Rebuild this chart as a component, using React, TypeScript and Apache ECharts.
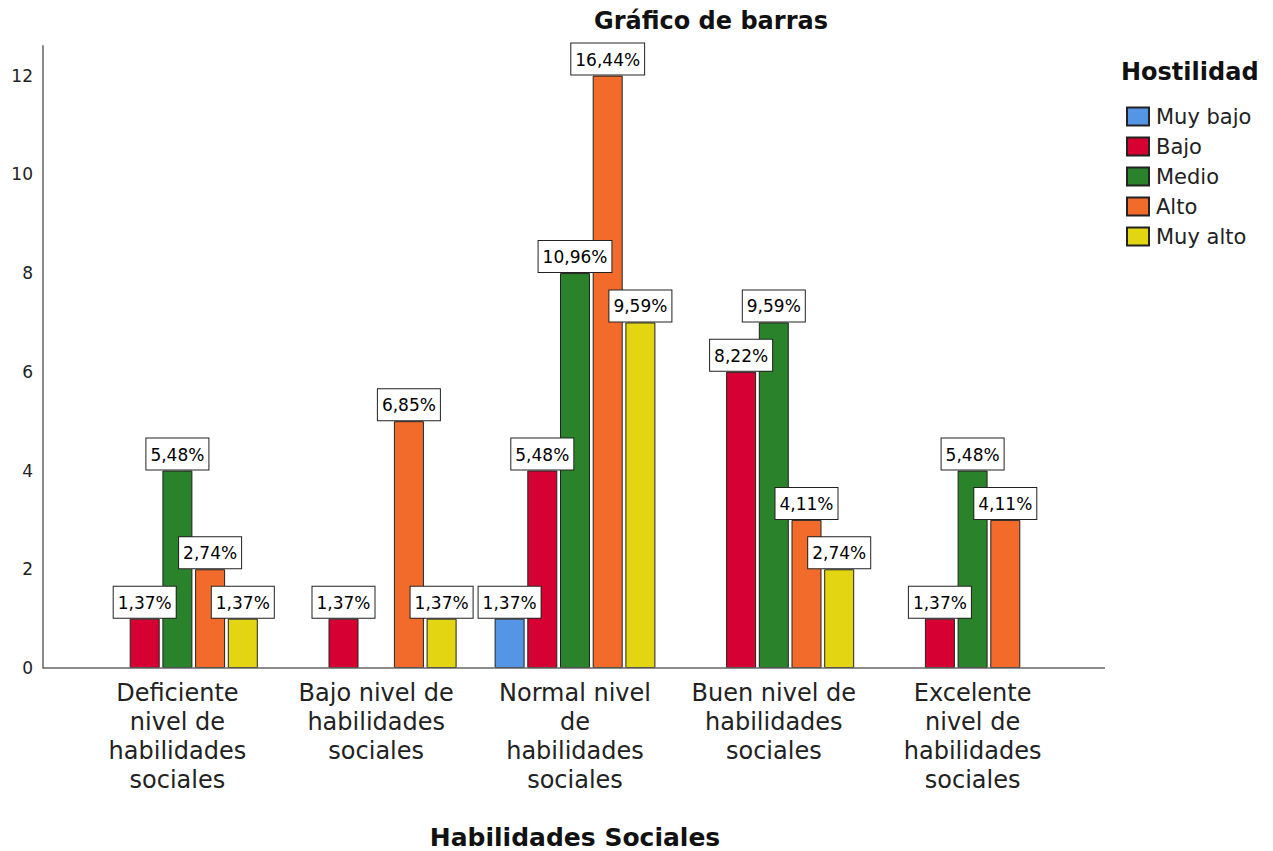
import React, { useEffect, useRef } from 'react';
import * as echarts from 'echarts';

const categories = [
  'Deficiente\nnivel de\nhabilidades\nsociales',
  'Bajo nivel de\nhabilidades\nsociales',
  'Normal nivel\nde\nhabilidades\nsociales',
  'Buen nivel de\nhabilidades\nsociales',
  'Excelente\nnivel de\nhabilidades\nsociales',
];
const hostilidad = ['Muy bajo', 'Bajo', 'Medio', 'Alto', 'Muy alto'];
const muyBajo = [0, 0, 1, 0, 0];
const bajo = [1, 1, 4, 6, 1];
const medio = [4, 0, 8, 7, 4];
const alto = [2, 5, 12, 3, 3];
const muyAlto = [1, 1, 7, 2, 0];
const seriesValues = [muyBajo, bajo, medio, alto, muyAlto];
const colors = ['#5595E5', '#D60032', '#2A822A', '#F36B2B', '#E3D512'];
const yTicks = [0, 2, 4, 6, 8, 10, 12];

const FONT = 'DejaVu Sans';
const total = seriesValues.reduce((s, arr) => s + arr.reduce((a, b) => a + b, 0), 0);
const pct = (v: number) => ((v / total) * 100).toFixed(2).replace('.', ',') + '%';

export default function App() {
  const ref = useRef<HTMLDivElement>(null);
  useEffect(() => {
    document.body.style.margin = '0';
    if (!ref.current) return;
    const chart = echarts.init(ref.current, null, { renderer: 'svg' });
    const gridLeft = 78;
    const gridRight = 201;
    const option: any = {
      animation: false,
      backgroundColor: '#fff',
      textStyle: { fontFamily: FONT },
      grid: { left: gridLeft, right: gridRight, top: 46, bottom: 183, containLabel: false, outerBoundsMode: 'none' },
      legend: {
        orient: 'vertical',
        left: 1126,
        top: 106,
        padding: 0,
        itemWidth: 22,
        itemHeight: 18,
        itemGap: 9,
        icon: 'rect',
        data: hostilidad,
        textStyle: { fontFamily: FONT, fontSize: 21, color: '#222', lineHeight: 20, padding: [0, 0, 0, 2] },
      },
      xAxis: {
        type: 'category',
        data: categories,
        axisLine: { show: false },
        axisTick: { show: false },
        axisLabel: {
          interval: 0,
          margin: 10,
          fontFamily: FONT,
          fontSize: 24,
          lineHeight: 29,
          color: '#222',
          align: 'center',
        },
        name: 'Habilidades Sociales',
        nameLocation: 'middle',
        nameGap: 157,
        nameTextStyle: { fontFamily: FONT, fontSize: 25, fontWeight: 'bold', color: '#111' },
      },
      yAxis: {
        type: 'value',
        min: 0,
        max: 12.6,
        interval: 2,
        offset: 35,
        axisLine: { show: true, lineStyle: { color: '#8a8a8a', width: 2 } },
        axisTick: { show: false },
        splitLine: { show: false },
        axisLabel: {
          fontFamily: FONT,
          fontSize: 17,
          color: '#222',
          margin: 10,
          formatter: (v: number) => (yTicks.includes(v) ? String(v) : ''),
        },
      },
      series: hostilidad.map((name, i) => ({
        name,
        type: 'bar',
        barWidth: 30,
        barGap: '9%',
        data: seriesValues[i].map((v) => (v === 0 ? '-' : v)),
        itemStyle: { color: colors[i], borderColor: '#222', borderWidth: 1 },
        label: {
          show: true,
          position: 'top',
          distance: 1,
          formatter: (p: any) => pct(Number(p.value)),
          fontFamily: FONT,
          fontSize: 17,
          lineHeight: 20,
          color: '#000',
          backgroundColor: '#fff',
          borderColor: '#222',
          borderWidth: 1,
          padding: [6, 4, 5, 4],
        },
      })),
    };
    chart.setOption(option);
    const y0 = chart.convertToPixel({ yAxisIndex: 0 }, 0) as number;
    chart.setOption({
      graphic: [
        {
          type: 'line',
          shape: { x1: gridLeft - 35, y1: y0, x2: 1273 - gridRight + 33, y2: y0 },
          style: { stroke: '#666', lineWidth: 1.5 },
          z: 10,
        },
        {
          type: 'text',
          x: 711,
          y: 21,
          style: {
            text: 'Gráfico de barras',
            fontFamily: FONT,
            fontSize: 24,
            fontWeight: 'bold',
            fill: '#111',
            textAlign: 'center',
            textVerticalAlign: 'middle',
          },
        },
        {
          type: 'text',
          x: 1121,
          y: 72,
          style: {
            text: 'Hostilidad',
            fontFamily: FONT,
            fontSize: 24,
            fontWeight: 'bold',
            fill: '#111',
            textAlign: 'left',
            textVerticalAlign: 'middle',
          },
        },
      ],
    });
    return () => chart.dispose();
  }, []);
  return <div ref={ref} style={{ width: 1273, height: 851 }} />;
}
